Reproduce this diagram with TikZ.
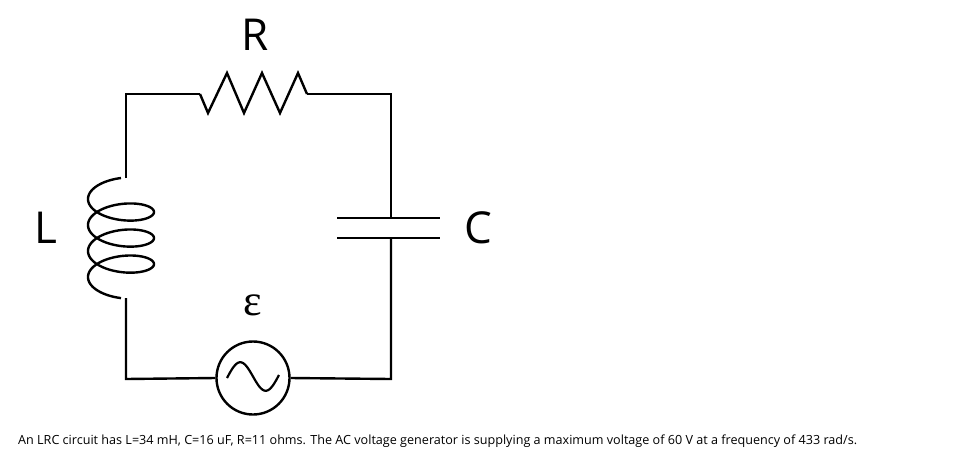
\documentclass[tikz,border=0pt]{standalone}
\usepackage{fontspec}
\setmainfont{Open Sans}
\newfontfamily\serifgreek{Liberation Serif}
\begin{document}
\begin{tikzpicture}[x=1pt,y=-1pt,
  wire/.style={line width=2.4pt,black,line join=miter},
  lbl/.style={font=\fontsize{44}{44}\selectfont,inner sep=0pt}]
\useasboundingbox (0,0) rectangle (979,469);
% corners
\coordinate (tl) at (126,94);
\coordinate (tr) at (391,94);
\coordinate (bl) at (126,379);
\coordinate (br) at (391,379);
\coordinate (r1) at (200,94);
\coordinate (r2) at (307,94);
\coordinate (l1) at (126,178);
\coordinate (l2) at (126,298);
\coordinate (c1) at (391,218);
\coordinate (c2) at (391,238);
\node[circle,draw,line width=2.4pt,minimum size=73pt,inner sep=0pt] (src) at (253,378) {};
% wires
\draw[wire] (l1) -- (tl) -- (r1);
\draw[wire] (r1) -- (208,113) -- (227,73) -- (244,113) -- (262,73) -- (280,113) -- (298,73) -- (r2);
\draw[wire] (r2) -- (tr) -- (c1);
\draw[wire] (c2) -- (br) -- (src.east);
\draw[wire] (src.west) -- (bl) -- (l2);
% capacitor plates
\draw[wire] (337,218) -- (440,218);
\draw[wire] (337,238) -- (440,238);
% inductor coil
\draw[wire,smooth,domain=90:1350,samples=300,variable=\t]
  plot ({121+33*cos(\t)}, {186+0.0723*\t-14.5*sin(\t)});
% source tilde
\draw[wire,line width=2.2pt,domain=0:360,samples=60,variable=\t]
  plot ({227+0.1444*\t}, {378-15*sin(\t)-0.00833*\t});
% labels
\node[lbl] (R) at (255,35) {R};
\node[lbl] (L) at (46,228) {L};
\node[lbl] (C) at (478,228) {C};
\node[font=\serifgreek\fontsize{44}{44}\selectfont,inner sep=0pt] (E) at (253,305) {ε};
\node[anchor=west,font=\fontsize{12.6}{14}\selectfont,inner sep=0pt] (cap) at (18,441)
  {An LRC circuit has L=34 mH, C=16 uF, R=11 ohms. The AC voltage generator is supplying a maximum voltage of 60 V at a frequency of 433 rad/s.};
\end{tikzpicture}
\end{document}
